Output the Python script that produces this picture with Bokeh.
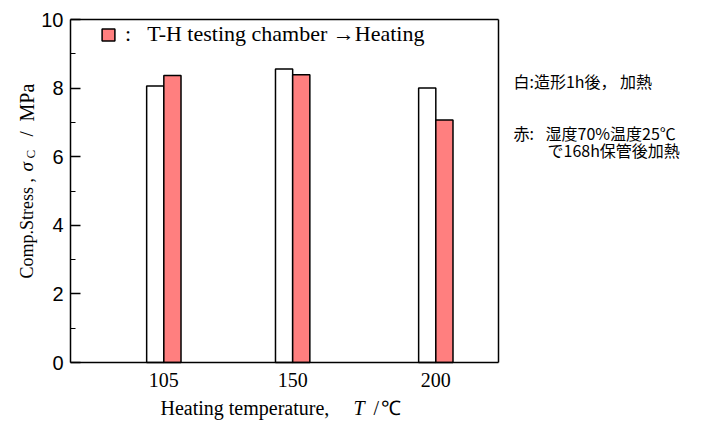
import math
from bokeh.plotting import figure
from bokeh.models import (ColumnDataSource, Label, Legend, LegendItem, Range1d,
                          FixedTicker, LinearAxis)
from bokeh.transform import dodge
from bokeh.embed import file_html
from bokeh.resources import INLINE

# ---- data ----
temps = [105, 150, 200]               # heating temperature, degC
white_vals = [8.06, 8.56, 8.00]       # 造形1h後, 加熱
red_vals = [8.37, 8.39, 7.07]         # 湿度70%温度25℃で168h保管後加熱
x_ticks = [105, 150, 200]
y_ticks = [0, 2, 4, 6, 8, 10]
y_minor = [1, 3, 5, 7, 9]

# axis box limits (data units)
x_lo, x_hi = 72.4, 221.9
y_lo, y_hi = 0, 10

src = ColumnDataSource(dict(t=temps, w=white_vals, r=red_vals))

SERIF = "Liberation Serif"
SANS = "Liberation Sans"
CJK = "Noto Sans CJK JP"

W, H = 702, 421
p = figure(width=W, height=H, output_backend="svg", toolbar_location=None,
           x_range=Range1d(47.95, 293.15), y_range=Range1d(-1.720, 10.554),
           min_border=0, min_border_left=0, min_border_right=0,
           min_border_top=0, min_border_bottom=0,
           background_fill_color="white", border_fill_color="white")

p.grid.visible = False
p.outline_line_color = None

wr = p.vbar(x=dodge("t", -3, range=p.x_range), top="w", bottom=0, width=6, source=src,
            fill_color="white", line_color="black", line_width=1.5)
rr = p.vbar(x=dodge("t", 3, range=p.x_range), top="r", bottom=0, width=6, source=src,
            fill_color="#FF7F7F", line_color="black", line_width=1.5)

# y axis (left, fixed at box edge)
ya = p.yaxis[0]
ya.fixed_location = x_lo
ya.bounds = (y_lo, y_hi)
ya.ticker = FixedTicker(ticks=y_ticks, minor_ticks=y_minor)
ya.major_tick_in = 10
ya.major_tick_out = 0
ya.minor_tick_in = 5
ya.minor_tick_out = 0
ya.major_tick_line_width = 1.5
ya.minor_tick_line_width = 1.2
ya.axis_line_width = 1.5
ya.major_label_text_font = SANS
ya.major_label_text_font_size = "20px"
ya.major_label_text_color = "black"
ya.major_label_standoff = 7

# x axis (bottom, fixed at box edge)
xa = p.xaxis[0]
xa.fixed_location = y_lo
xa.bounds = (x_lo, x_hi)
xa.ticker = FixedTicker(ticks=x_ticks)
xa.major_tick_in = 0
xa.major_tick_out = 0
xa.minor_tick_in = 0
xa.minor_tick_out = 0
xa.axis_line_width = 1.5
xa.major_label_text_font = SERIF
xa.major_label_text_font_size = "20px"
xa.major_label_text_color = "black"
xa.major_label_standoff = 10

# top and right edges of the box
for loc, fixed, bnds in (("above", y_hi, (x_lo, x_hi)), ("right", x_hi, (y_lo, y_hi))):
    ax = LinearAxis(fixed_location=fixed, bounds=bnds, ticker=FixedTicker(ticks=[]),
                    major_tick_line_color=None, minor_tick_line_color=None,
                    major_label_text_alpha=0, axis_line_width=1.5, axis_line_color="black")
    p.add_layout(ax, loc)

# legend
leg = Legend(items=[LegendItem(label=":   T-H testing chamber \u2192Heating", renderers=[rr])],
             location=(100, 374), padding=0, margin=0, spacing=0,
             glyph_width=16, glyph_height=15, label_height=15, label_standoff=9,
             label_text_font=SERIF, label_text_font_size="22px", label_text_color="black",
             border_line_color=None, background_fill_alpha=0)
p.add_layout(leg)


def lab(text, wx, wy, size, font=SERIF, style="normal", angle=0.0, align="left",
        baseline="middle"):
    # wx, wy: pixel position from the canvas' top-left corner
    p.add_layout(Label(x=wx, y=H - wy, x_units="screen", y_units="screen", text=text,
                       text_font=font, text_font_size=size, text_font_style=style,
                       text_color="black", angle=angle, text_align=align,
                       text_baseline=baseline))


# x axis title
lab("Heating temperature,", 160, 407, "20px")
lab("T", 353, 407, "20px", style="italic")
lab("/", 373, 407, "20px")
lab("\u2103", 380, 407, "20px", font=SANS)

# y axis title (rotated)
A = math.pi / 2
lab("Comp.Stress ,", 26, 278, "18px", angle=A)
lab("\u03c3", 26, 171, "19px", style="italic", angle=A)
lab("C", 30, 158, "13px", angle=A)
lab("/", 26, 136, "19px", angle=A)
lab("MPa", 26, 121, "20px", angle=A)

# right-side notes
lab("白:造形1h後， 加熱", 513, 80, "16px", font=CJK)
lab("赤:", 513, 132, "16px", font=CJK)
lab("湿度70%温度25℃", 545, 132, "16px", font=CJK)
lab("で168h保管後加熱", 547, 149, "16px", font=CJK)

open("out.html", "w").write(file_html(p, INLINE))
